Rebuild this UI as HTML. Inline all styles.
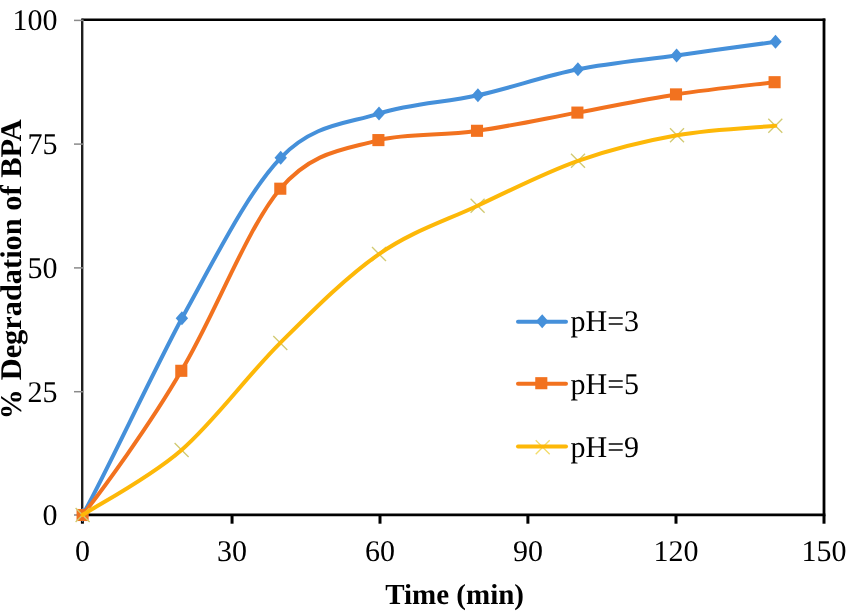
<!DOCTYPE html>
<html><head><meta charset="utf-8"><style>
html,body{margin:0;padding:0;background:#fff;width:849px;height:612px;overflow:hidden}
svg{display:block;text-rendering:geometricPrecision;will-change:transform}
.t{font-family:"Liberation Serif",serif;font-size:30px;fill:#000}
.b{font-family:"Liberation Serif",serif;font-size:30px;font-weight:bold;fill:#000}
</style></head><body>
<svg width="849" height="612" viewBox="0 0 849 612">
<rect width="849" height="612" fill="#fff"/>
<line x1="82.2" y1="19.7" x2="825.3" y2="19.7" stroke="#000" stroke-width="2.6"/>
<line x1="824.0" y1="18.4" x2="824.0" y2="514.8" stroke="#000" stroke-width="2.8"/>
<line x1="82.2" y1="18.4" x2="82.2" y2="516.2" stroke="#1e1e1e" stroke-width="2.4"/>
<line x1="74" y1="20.4" x2="83.6" y2="20.4" stroke="#8a8a8a" stroke-width="1.5"/>
<line x1="74" y1="144.1" x2="83.6" y2="144.1" stroke="#8a8a8a" stroke-width="1.5"/>
<line x1="74" y1="267.9" x2="83.6" y2="267.9" stroke="#8a8a8a" stroke-width="1.5"/>
<line x1="74" y1="391.7" x2="83.6" y2="391.7" stroke="#8a8a8a" stroke-width="1.5"/>
<line x1="74" y1="515.0" x2="83.6" y2="515.0" stroke="#8a8a8a" stroke-width="1.5"/>
<line x1="81.0" y1="514.8" x2="825.4" y2="514.8" stroke="#000" stroke-width="2.8"/>
<line x1="82.4" y1="514.8" x2="82.4" y2="523.7" stroke="#000" stroke-width="3"/>
<line x1="232.05" y1="514.8" x2="232.05" y2="523.7" stroke="#000" stroke-width="3"/>
<line x1="380.0" y1="514.8" x2="380.0" y2="523.7" stroke="#000" stroke-width="3"/>
<line x1="527.9" y1="514.8" x2="527.9" y2="523.7" stroke="#000" stroke-width="3"/>
<line x1="676.0" y1="514.8" x2="676.0" y2="523.7" stroke="#000" stroke-width="3"/>
<line x1="824.0" y1="514.8" x2="824.0" y2="523.7" stroke="#000" stroke-width="3"/>
<text transform="translate(57.5,30.2) scale(1,1.0)" text-anchor="end" class="t">100</text>
<text transform="translate(57.5,153.9) scale(1,1.0)" text-anchor="end" class="t">75</text>
<text transform="translate(57.5,277.7) scale(1,1.0)" text-anchor="end" class="t">50</text>
<text transform="translate(57.5,401.5) scale(1,1.0)" text-anchor="end" class="t">25</text>
<text transform="translate(57.5,524.8) scale(1,1.0)" text-anchor="end" class="t">0</text>
<text transform="translate(82.4,560.6) scale(1,1.0)" text-anchor="middle" class="t">0</text>
<text transform="translate(232.05,560.6) scale(1,1.0)" text-anchor="middle" class="t">30</text>
<text transform="translate(380.0,560.6) scale(1,1.0)" text-anchor="middle" class="t">60</text>
<text transform="translate(527.9,560.6) scale(1,1.0)" text-anchor="middle" class="t">90</text>
<text transform="translate(676.0,560.6) scale(1,1.0)" text-anchor="middle" class="t">120</text>
<text transform="translate(824.0,560.6) scale(1,1.0)" text-anchor="middle" class="t">150</text>
<text x="454.6" y="604" text-anchor="middle" class="b" style="font-size:29px">Time (min)</text>
<text transform="translate(20.9,380.3) rotate(-90) scale(1.0125,1)" x="0" y="0" class="b">Degradation of BPA</text>
<text transform="translate(20.9,419.3) rotate(-90)" x="0" y="0" class="b">%</text>
<path d="M82.60,515.00 C101.65,482.22 150.08,377.83 181.90,318.30 C214.92,258.77 247.85,191.92 280.70,157.80 C313.55,123.68 346.13,124.02 379.00,113.60 C411.87,103.18 444.75,102.68 477.90,95.30 C511.05,87.92 544.78,75.95 577.90,69.30 C611.02,62.65 643.67,59.98 676.60,55.40 C709.53,50.82 759.02,44.07 775.50,41.80" stroke="#4590da" stroke-width="4.0" fill="none" stroke-linejoin="round" stroke-linecap="round"/>
<path d="M82.60,508.00 L88.80,515.00 L82.60,522.00 L76.40,515.00Z" fill="#4590da"/>
<path d="M181.90,311.30 L188.10,318.30 L181.90,325.30 L175.70,318.30Z" fill="#4590da"/>
<path d="M280.70,150.80 L286.90,157.80 L280.70,164.80 L274.50,157.80Z" fill="#4590da"/>
<path d="M379.00,106.60 L385.20,113.60 L379.00,120.60 L372.80,113.60Z" fill="#4590da"/>
<path d="M477.90,88.30 L484.10,95.30 L477.90,102.30 L471.70,95.30Z" fill="#4590da"/>
<path d="M577.90,62.30 L584.10,69.30 L577.90,76.30 L571.70,69.30Z" fill="#4590da"/>
<path d="M676.60,48.40 L682.80,55.40 L676.60,62.40 L670.40,55.40Z" fill="#4590da"/>
<path d="M775.50,34.80 L781.70,41.80 L775.50,48.80 L769.30,41.80Z" fill="#4590da"/>
<path d="M82.60,515.00 C101.55,490.97 149.85,425.18 181.30,370.80 C214.25,316.42 247.45,227.15 280.30,188.70 C313.15,150.25 345.62,149.75 378.40,140.10 C411.18,132.65 443.83,136.38 477.00,130.80 C510.17,126.22 544.23,118.67 577.40,112.60 C610.57,106.53 643.13,99.47 676.00,94.40 C708.87,89.33 758.17,84.23 774.60,82.20" stroke="#f2721f" stroke-width="4.0" fill="none" stroke-linejoin="round" stroke-linecap="round"/>
<rect x="76.55" y="508.95" width="12.1" height="12.1" fill="#f2721f"/>
<rect x="175.25" y="364.75" width="12.1" height="12.1" fill="#f2721f"/>
<rect x="274.25" y="182.65" width="12.1" height="12.1" fill="#f2721f"/>
<rect x="372.35" y="134.05" width="12.1" height="12.1" fill="#f2721f"/>
<rect x="470.95" y="124.75" width="12.1" height="12.1" fill="#f2721f"/>
<rect x="571.35" y="106.55" width="12.1" height="12.1" fill="#f2721f"/>
<rect x="669.95" y="88.35" width="12.1" height="12.1" fill="#f2721f"/>
<rect x="768.55" y="76.15" width="12.1" height="12.1" fill="#f2721f"/>
<path d="M75.60,508.00 L89.60,522.00 M75.60,522.00 L89.60,508.00" stroke="#d2ca72" stroke-width="1.35" fill="none"/>
<path d="M174.60,443.00 L188.60,457.00 M174.60,457.00 L188.60,443.00" stroke="#d2ca72" stroke-width="1.35" fill="none"/>
<path d="M273.30,335.90 L287.30,349.90 M273.30,349.90 L287.30,335.90" stroke="#d2ca72" stroke-width="1.35" fill="none"/>
<path d="M372.00,247.10 L386.00,261.10 M372.00,261.10 L386.00,247.10" stroke="#d2ca72" stroke-width="1.35" fill="none"/>
<path d="M470.60,198.70 L484.60,212.70 M470.60,212.70 L484.60,198.70" stroke="#d2ca72" stroke-width="1.35" fill="none"/>
<path d="M571.00,153.80 L585.00,167.80 M571.00,167.80 L585.00,153.80" stroke="#d2ca72" stroke-width="1.35" fill="none"/>
<path d="M670.00,128.20 L684.00,142.20 M670.00,142.20 L684.00,128.20" stroke="#d2ca72" stroke-width="1.35" fill="none"/>
<path d="M768.30,118.80 L782.30,132.80 M768.30,132.80 L782.30,118.80" stroke="#d2ca72" stroke-width="1.35" fill="none"/>
<path d="M82.60,515.00 C99.10,504.17 148.65,478.68 181.60,450.00 C214.55,421.32 247.40,375.55 280.30,342.90 C313.20,310.25 346.12,276.97 379.00,254.10 C411.88,231.23 444.43,221.25 477.60,205.70 C510.77,190.15 544.77,172.55 578.00,160.80 C611.23,149.05 644.12,141.03 677.00,135.20 C709.88,129.37 758.92,127.37 775.30,125.80" stroke="#fdb808" stroke-width="4.0" fill="none" stroke-linejoin="round" stroke-linecap="round"/>
<path d="M535.70,440.30 L549.70,454.30 M535.70,454.30 L549.70,440.30" stroke="#f3dc6a" stroke-width="1.35" fill="none"/>
<line x1="518" y1="321.8" x2="566" y2="321.8" stroke="#4590da" stroke-width="4.0" stroke-linecap="round"/>
<text transform="translate(570.5,331.3) scale(1,1.0)" class="t">pH=3</text>
<line x1="518" y1="383.7" x2="566" y2="383.7" stroke="#f2721f" stroke-width="4.0" stroke-linecap="round"/>
<text transform="translate(570.5,394.0) scale(1,1.0)" class="t">pH=5</text>
<line x1="518" y1="446.5" x2="566" y2="446.5" stroke="#fdb808" stroke-width="4.0" stroke-linecap="round"/>
<text transform="translate(570.5,456.6) scale(1,1.0)" class="t">pH=9</text>
<path d="M542.20,314.30 L548.40,321.30 L542.20,328.30 L536.00,321.30Z" fill="#4590da"/>
<rect x="535.25" y="377.15" width="12.1" height="12.1" fill="#f2721f"/>
</svg>
</body></html>
